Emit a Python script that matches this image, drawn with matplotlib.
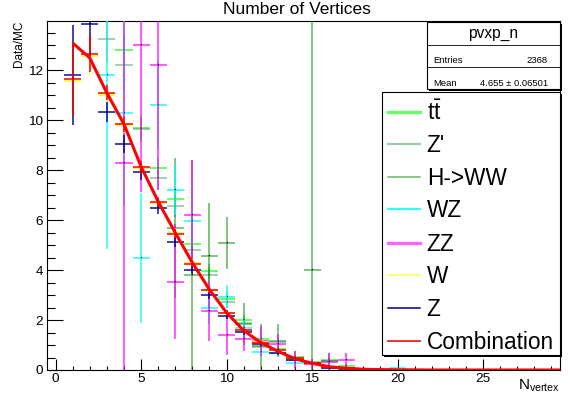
"""
Data/MC ratio of the number of primary vertices, per sample.
"""

import numpy as np
import matplotlib
matplotlib.use("Agg")
import matplotlib.pyplot as plt
from matplotlib.lines import Line2D
from matplotlib.patches import Rectangle
from matplotlib.ticker import MultipleLocator

plt.rcParams['font.family'] = ['Liberation Sans', 'DejaVu Sans']
plt.rcParams['mathtext.fontset'] = 'custom'
plt.rcParams['mathtext.rm'] = 'Liberation Sans'
plt.rcParams['mathtext.it'] = 'Liberation Sans:italic'

nan = np.nan

# bin centres (N_vertex = 1 .. 21)
n_vertex = np.arange(1, 22)

tt_vals = [nan, nan, nan, 12.81, 9.71, 8.08, 6.83, 5.04, 3.96, 2.86, 1.99,
           1.25, 0.84, 0.51, 0.31, 0.40, 0.15]
tt_errs = [nan, nan, nan, 0.7, 0.45, 0.4, 0.4, 0.3, 0.3, 0.25, 0.2,
           0.15, 0.12, 0.1, 0.08, 0.1, 0.08]

zp_vals = [nan, nan, 13.24, 12.23, 9.65, 7.68, 6.56, 4.82, 3.80, 2.72, 1.89,
           0.94, 1.14, 0.48, 0.30, 0.38]
zp_errs = [nan, nan, 0.9, 1.1, 0.5, 0.45, 0.45, 0.35, 0.3, 0.25, 0.2,
           0.15, 0.15, 0.1, 0.08, 0.1]

hww_vals = [nan, nan, nan, nan, nan, nan, 5.68, 3.80, 4.58, 5.09, 1.85,
            0.95, 1.18, 0.45, 4.00, 0.38]
hww_errs = [nan, nan, nan, nan, nan, nan, 2.8, 4.6, 2.1, 1.05, 0.85,
            0.9, 0.65, 0.3, 10.1, 0.3]

wz_vals = [nan, nan, 11.83, 10.30, 4.48, 10.61, 7.20, 5.97, 2.48, 2.94, 1.70,
           0.73, 0.68, 0.30, 0.27, 0.08, nan, nan, nan, 0.07]
wz_errs = [nan, nan, 7.0, 3.7, 2.6, 1.75, 1.0, 1.0, 0.65, 0.45, 0.3,
           0.2, 0.15, 0.1, 0.08, 0.05, nan, nan, nan, 0.05]

zz_vals = [nan, nan, nan, 8.30, 13.0, 12.23, 3.53, 6.22, 2.37, 1.41, 1.25,
           1.15, 1.04, 0.40, 0.25, 0.33, 0.40]
zz_errs = [nan, nan, nan, 8.5, 5.85, 5.03, 2.3, 2.2, 1.2, 0.8, 0.5,
           0.6, 0.4, 0.35, 0.2, 0.37, 0.3]

w_vals = [11.57, 12.58, 11.00, 9.80, 8.10, 6.70, 5.50, 4.28, 3.22, 2.30, 1.60,
          1.12, 0.80, 0.45, 0.28, 0.12, 0.07, 0.03, 0.02, 0.01, 0.01]
w_errs = [1.45, 0.78, 0.3, 0.3, 0.25, 0.2, 0.18, 0.15, 0.12, 0.1, 0.08,
          0.07, 0.05, 0.04, 0.03, 0.02, 0.02, 0.01, 0.01, 0.01, 0.01]

z_vals = [11.83, 13.86, 10.34, 9.06, 7.92, 6.50, 5.12, 4.01, 2.99, 2.15, 1.51,
          1.06, 0.67, 0.42, 0.27, 0.10, 0.05, 0.02, 0.01]
z_errs = [2.0, 1.3, 0.4, 0.35, 0.3, 0.25, 0.2, 0.18, 0.15, 0.12, 0.1,
          0.08, 0.06, 0.05, 0.04, 0.03, 0.02, 0.01, 0.01]

comb_vals = [11.66, 12.67, 11.10, 9.85, 8.13, 6.71, 5.45, 4.26, 3.20, 2.29, 1.59,
             1.10, 0.80, 0.47, 0.28, 0.12, 0.07, 0.03, 0.02, 0.01, 0.01]
comb_errs = [1.45, 0.75, 0.3, 0.3, 0.25, 0.2, 0.18, 0.15, 0.12, 0.1, 0.08,
             0.07, 0.05, 0.04, 0.03, 0.02, 0.02, 0.01, 0.01, 0.01, 0.01]

# smooth combination curve
curve_x = np.arange(1, 31)
curve_y = [13.1, 12.5, 11.1, 9.85, 8.15, 6.75, 5.5, 4.3, 3.22, 2.3, 1.58,
           1.1, 0.75, 0.45, 0.27, 0.13, 0.07, 0.03, 0.015, 0.01, 0.005,
           0, 0, 0, 0, 0, 0, 0, 0, 0]

labels = [r'$\mathregular{t\bar{t}}$', "Z'", 'H->WW', 'WZ', 'ZZ', 'W', 'Z', 'Combination']

W, H = 570, 394


def fx(px):
    return px / W


def fy(py):
    return 1 - py / H


def draw_series(ax, vals, errs, color, alpha, lw, z):
    """Draw one histogram as ROOT-like error crosses."""
    vals = np.asarray(vals, float)
    errs = np.asarray(errs, float)
    x = n_vertex[:len(vals)]
    ok = ~np.isnan(vals)
    ax.errorbar(x[ok], vals[ok], xerr=0.5, yerr=errs[ok], fmt='none',
                ecolor=color, elinewidth=lw, alpha=alpha, capsize=0, zorder=z)
    ax.plot(x[ok], vals[ok], linestyle='none', marker=',', color='black',
            zorder=z + 0.5)


def draw_box(x0, y0, x1, y1):
    """White box with a thin border and ROOT style shadow (pixel coords)."""
    fig.add_artist(Rectangle((fx(x0 + 2), fy(y1 + 2)), fx(x1 - x0), (y1 - y0) / H,
                             transform=fig.transFigure, facecolor='black',
                             edgecolor='none', zorder=4))
    fig.add_artist(Rectangle((fx(x0), fy(y1)), fx(x1 - x0), (y1 - y0) / H,
                             transform=fig.transFigure, facecolor='white',
                             edgecolor='black', linewidth=0.8, zorder=5))


fig = plt.figure(figsize=(W / 100, H / 100), dpi=100)
ax = fig.add_axes([fx(47), fy(370), fx(560 - 47), (370 - 21) / H])

series = [
    (tt_vals, tt_errs, '#00ff00', 0.6, 1.4),
    (zp_vals, zp_errs, '#55aa71', 0.6, 1.3),
    (hww_vals, hww_errs, '#008e00', 0.55, 1.3),
    (wz_vals, wz_errs, '#00ffff', 0.75, 1.3),
    (zz_vals, zz_errs, '#ff00ff', 0.7, 1.3),
    (w_vals, w_errs, '#ffff00', 0.8, 1.3),
    (z_vals, z_errs, '#000099', 0.8, 1.3),
    (comb_vals, comb_errs, '#ff0000', 0.85, 1.3),
]
for i, (vals, errs, color, alpha, lw) in enumerate(series):
    draw_series(ax, vals, errs, color, alpha, lw, 2 + i)

ax.plot(curve_x, curve_y, color='#ff0000', linewidth=2.2, zorder=20,
        solid_capstyle='butt')

ax.set_xlim(-0.5, 29.5)
ax.set_ylim(0, 13.98)
ax.xaxis.set_major_locator(MultipleLocator(5))
ax.xaxis.set_minor_locator(MultipleLocator(1))
ax.yaxis.set_major_locator(MultipleLocator(2))
ax.yaxis.set_minor_locator(MultipleLocator(0.5))
ax.tick_params(axis='both', which='both', direction='in', width=0.8,
               labelsize=9.7, top=False, right=False)
ax.tick_params(axis='y', which='major', length=11.2, pad=2.9)
ax.tick_params(axis='y', which='minor', length=5.5)
ax.tick_params(axis='x', which='major', length=7.9, pad=2)
ax.tick_params(axis='x', which='minor', length=3.2)
for sp in ax.spines.values():
    sp.set_linewidth(0.8)

ax.set_ylabel('Data/MC', fontsize=8.5, loc='top')
ax.yaxis.set_label_coords(-0.042, 1.0)
ax.set_xlabel(r'$\mathregular{N_{vertex}}$', fontsize=11, loc='right')
ax.xaxis.set_label_coords(1.0, -0.022)

fig.text(fx(297), fy(10), 'Number of Vertices', fontsize=12.5,
         ha='center', va='center')

# statistics box
draw_box(426.7, 21.7, 559.7, 88.7)
fig.add_artist(Line2D([fx(426.7), fx(559.7)], [fy(45), fy(45)],
                      transform=fig.transFigure, color='black', lw=0.6, zorder=6))
fig.add_artist(Line2D([fx(426.7), fx(559.7)], [fy(66.7), fy(66.7)],
                      transform=fig.transFigure, color='black', lw=0.6, zorder=6))
fig.text(fx(493), fy(33.5), 'pvxp_n', fontsize=11.2, ha='center', va='center', zorder=7)
fig.text(fx(433), fy(63), 'Entries', fontsize=6.8, ha='left', va='baseline', zorder=7)
fig.text(fx(548), fy(63), '2368', fontsize=6.8, ha='right', va='baseline', zorder=7)
fig.text(fx(433), fy(86), 'Mean', fontsize=6.8, ha='left', va='baseline', zorder=7)
fig.text(fx(548), fy(86), '4.655 \u00b1 0.06501', fontsize=6.8, ha='right',
         va='baseline', zorder=7)

# legend
draw_box(381.7, 91.7, 559.7, 354.7)
legend_style = [('#66ff66', 2.4), ('#99ccaa', 1.6), ('#66bb66', 1.1), ('#33ffff', 1.6),
                ('#ff66ff', 2.4), ('#ffff55', 1.1), ('#000099', 1.1), ('#ee3333', 1.4)]
legend_y = [111.7, 144, 177.3, 209.3, 242.7, 275, 308.3, 340.7]
for label, (color, lw), yy in zip(labels, legend_style, legend_y):
    fig.add_artist(Line2D([fx(388), fx(420)], [fy(yy), fy(yy)],
                          transform=fig.transFigure, color=color, lw=lw, zorder=6))
    fig.text(fx(426.7), fy(yy + 8.2), label, fontsize=16.3, ha='left',
             va='baseline', zorder=7)

fig.savefig('out.png', dpi=100)
